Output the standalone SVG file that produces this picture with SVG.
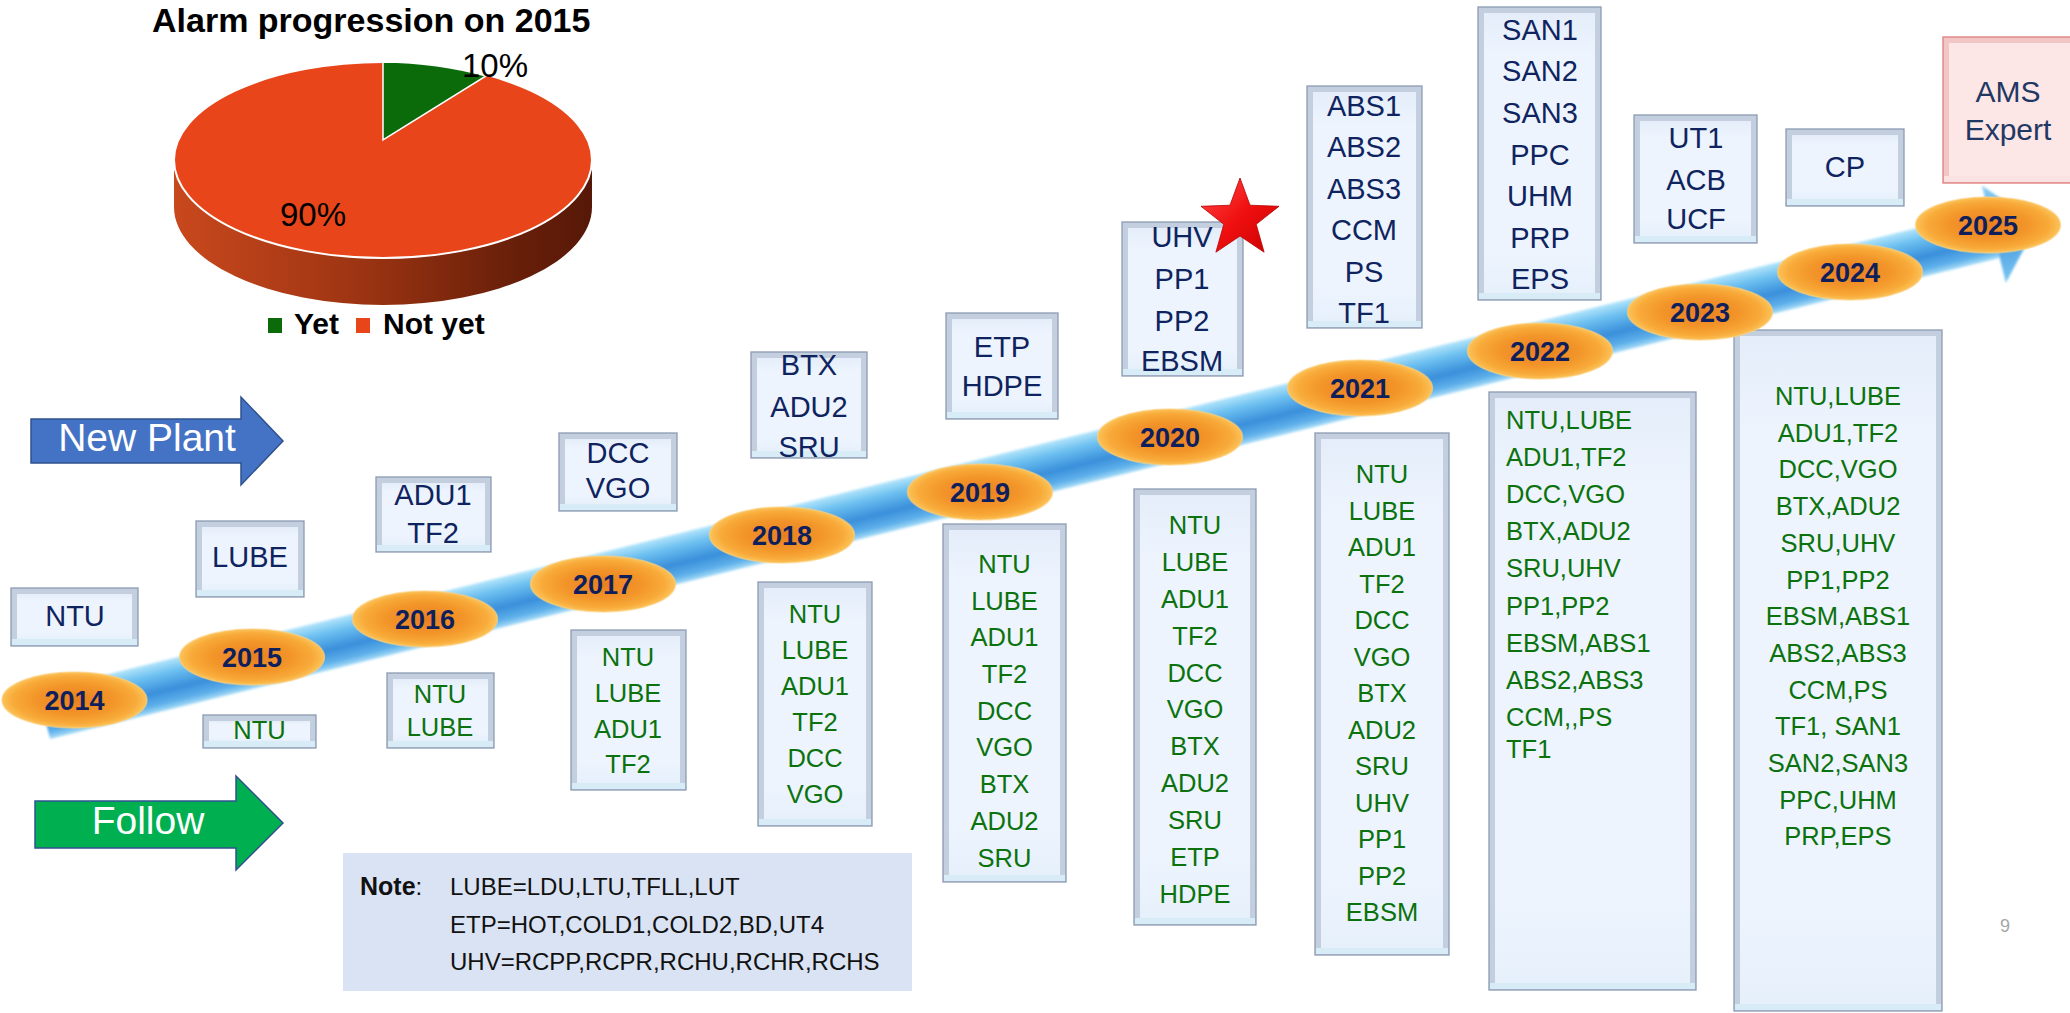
<svg xmlns="http://www.w3.org/2000/svg" width="2070" height="1013" viewBox="0 0 2070 1013">
<defs>
<style>
text{font-family:"Liberation Sans",Arial,sans-serif}
.bo{fill:#C3CFDF;stroke:#8C9BB2;stroke-width:1.3}
.bb{fill:#D8ECF7}
.bi{fill:url(#boxIn)}
.pk .bo{fill:#F3C6C6;stroke:#DE7C7C}
.pk .bb{fill:#FBE2E2}
.pk .bi{fill:#FDE6E6}
.np text{font-size:29px;fill:#0F245F;text-anchor:middle}
.pk text{font-size:30px;fill:#1F3864;text-anchor:middle}
.fw text{font-size:25.5px;fill:#0B720D;text-anchor:middle}
.fw text.left{text-anchor:start}
.yr ellipse{fill:url(#yrFill);stroke:#FCD080;stroke-width:1.5;stroke-opacity:.6}
.yr text{font-size:27px;font-weight:bold;fill:#0E1F5C;text-anchor:middle}
.lbl{font-size:33px;fill:#000}
.lg{font-size:30px;font-weight:bold;fill:#000}
.note text{font-size:24px;fill:#111}
.big{font-size:39px;fill:#fff;text-anchor:middle}
</style>
<linearGradient id="boxIn" x1="0" y1="0" x2="0" y2="1">
<stop offset="0" stop-color="#E4EDF9"/>
<stop offset="0.15" stop-color="#EDF4FE"/>
<stop offset="0.85" stop-color="#EDF4FE"/>
<stop offset="1" stop-color="#E6F0FB"/>
</linearGradient>
<radialGradient id="yrFill" cx="0.5" cy="0.5" r="0.5">
<stop offset="0" stop-color="#E97E20"/>
<stop offset="0.55" stop-color="#F3962A"/>
<stop offset="0.85" stop-color="#F8AB3A"/>
<stop offset="1" stop-color="#FCC258"/>
</radialGradient>
<linearGradient id="bandFill" gradientUnits="userSpaceOnUse" x1="0" y1="690.7" x2="0" y2="739.7">
<stop offset="0" stop-color="#B3E5FB"/>
<stop offset="0.25" stop-color="#6CC0F0"/>
<stop offset="0.6" stop-color="#3A8FDB"/>
<stop offset="0.85" stop-color="#5EB0EA"/>
<stop offset="1" stop-color="#A8DDF8"/>
</linearGradient>
<linearGradient id="headFill" x1="0" y1="0" x2="0" y2="1">
<stop offset="0" stop-color="#8ED2F6"/>
<stop offset="0.5" stop-color="#3F95DE"/>
<stop offset="1" stop-color="#7CC6F2"/>
</linearGradient>
<linearGradient id="pieSide" gradientUnits="userSpaceOnUse" x1="174" y1="0" x2="592" y2="0">
<stop offset="0" stop-color="#C9481D"/>
<stop offset="0.45" stop-color="#9C3412"/>
<stop offset="0.8" stop-color="#6A200A"/>
<stop offset="1" stop-color="#561807"/>
</linearGradient>
<linearGradient id="starFill" x1="0" y1="0" x2="1" y2="1">
<stop offset="0" stop-color="#FF4A4A"/>
<stop offset="0.5" stop-color="#F01010"/>
<stop offset="1" stop-color="#C80000"/>
</linearGradient>
<filter id="soft" x="-5%" y="-20%" width="110%" height="140%">
<feGaussianBlur stdDeviation="1.2"/>
</filter>
</defs>

<rect width="2070" height="1013" fill="#fff"/>

<!-- pie chart: alarm progression -->
<g id="pie-chart">
<text x="152" y="32" style="font-size:34px;font-weight:bold" fill="#000">Alarm progression on 2015</text>
<path d="M174,160 A209,98 0 0 0 592,160 L592,207 A209,98 0 0 1 174,207 Z" fill="url(#pieSide)"/>
<ellipse cx="383" cy="160" rx="209" ry="98" fill="#E8461A" stroke="#fff" stroke-width="2"/>
<path d="M383,140 L383,62 A209,98 0 0 1 486,76 Z" fill="#0B6B0B" stroke="#fff" stroke-width="1.5"/>
<text class="lbl" x="462" y="77">10%</text>
<text class="lbl" x="280" y="226">90%</text>
<rect x="268" y="318" width="14" height="15" fill="#0B6B0B"/>
<text class="lg" x="294" y="334">Yet</text>
<rect x="356" y="318" width="14" height="15" fill="#E8461A"/>
<text class="lg" x="383" y="334">Not yet</text>
</g>

<!-- category arrows -->
<g id="arrow-new-plant">
<path d="M31,419 H241 V397 L283,441 L241,485 V463 H31 Z" fill="#4472C4" stroke="#2F528F" stroke-width="1.5"/>
<text class="big" x="147" y="451">New Plant</text>
</g>
<g id="arrow-follow">
<path d="M35,801 H236 V776 L283,823 L236,870 V848 H35 Z" fill="#00B050" stroke="#2F528F" stroke-width="1.5"/>
<text class="big" x="148" y="834">Follow</text>
</g>

<!-- new plant boxes -->
<g id="np-2014" class="np"><rect class="bo" x="11" y="588" width="127" height="58"/><rect class="bb" x="12" y="639" width="125" height="6"/><rect class="bi" x="17" y="594" width="115" height="45"/>
<text x="75" y="626">NTU</text></g>
<g id="np-2015" class="np"><rect class="bo" x="196" y="521" width="108" height="76"/><rect class="bb" x="197" y="590" width="106" height="6"/><rect class="bi" x="202" y="527" width="96" height="63"/>
<text x="250" y="567">LUBE</text></g>
<g id="np-2016" class="np"><rect class="bo" x="376" y="477" width="115" height="75"/><rect class="bb" x="377" y="545" width="113" height="6"/><rect class="bi" x="382" y="483" width="103" height="62"/>
<text x="433" y="505">ADU1</text><text x="433" y="543">TF2</text></g>
<g id="np-2017" class="np"><rect class="bo" x="559" y="433" width="118" height="78"/><rect class="bb" x="560" y="504" width="116" height="6"/><rect class="bi" x="565" y="439" width="106" height="65"/>
<text x="618" y="463">DCC</text><text x="618" y="498">VGO</text></g>
<g id="np-2018" class="np"><rect class="bo" x="751" y="352" width="116" height="106"/><rect class="bb" x="752" y="451" width="114" height="6"/><rect class="bi" x="757" y="358" width="104" height="93"/>
<text x="809" y="375">BTX</text><text x="809" y="417">ADU2</text><text x="809" y="457">SRU</text></g>
<g id="np-2019" class="np"><rect class="bo" x="946" y="313" width="112" height="106"/><rect class="bb" x="947" y="412" width="110" height="6"/><rect class="bi" x="952" y="319" width="100" height="93"/>
<text x="1002" y="357">ETP</text><text x="1002" y="396">HDPE</text></g>
<g id="np-2020" class="np"><rect class="bo" x="1122" y="222" width="121" height="154"/><rect class="bb" x="1123" y="369" width="119" height="6"/><rect class="bi" x="1128" y="228" width="109" height="141"/>
<text x="1182" y="247">UHV</text><text x="1182" y="289">PP1</text><text x="1182" y="331">PP2</text><text x="1182" y="371">EBSM</text></g>
<g id="np-2021" class="np"><rect class="bo" x="1307" y="86" width="115" height="242"/><rect class="bb" x="1308" y="321" width="113" height="6"/><rect class="bi" x="1313" y="92" width="103" height="229"/>
<text x="1364" y="116">ABS1</text><text x="1364" y="157">ABS2</text><text x="1364" y="199">ABS3</text><text x="1364" y="240">CCM</text><text x="1364" y="282">PS</text><text x="1364" y="323">TF1</text></g>
<g id="np-2022" class="np"><rect class="bo" x="1478" y="7" width="123" height="293"/><rect class="bb" x="1479" y="293" width="121" height="6"/><rect class="bi" x="1484" y="13" width="111" height="280"/>
<text x="1540" y="40">SAN1</text><text x="1540" y="81">SAN2</text><text x="1540" y="123">SAN3</text><text x="1540" y="165">PPC</text><text x="1540" y="206">UHM</text><text x="1540" y="248">PRP</text><text x="1540" y="289">EPS</text></g>
<g id="np-2023" class="np"><rect class="bo" x="1634" y="115" width="123" height="128"/><rect class="bb" x="1635" y="236" width="121" height="6"/><rect class="bi" x="1640" y="121" width="111" height="115"/>
<text x="1696" y="148">UT1</text><text x="1696" y="190">ACB</text><text x="1696" y="229">UCF</text></g>
<g id="np-2024" class="np"><rect class="bo" x="1786" y="129" width="118" height="77"/><rect class="bb" x="1787" y="199" width="116" height="6"/><rect class="bi" x="1792" y="135" width="106" height="64"/>
<text x="1845" y="177">CP</text></g>
<g id="np-2025" class="pk"><rect class="bo" x="1943" y="37" width="135" height="146"/><rect class="bb" x="1944" y="176" width="133" height="6"/><rect class="bi" x="1949" y="43" width="123" height="133"/>
<text x="2008" y="102">AMS</text><text x="2008" y="140">Expert</text></g>

<!-- follow boxes -->
<g id="fw-2015" class="fw"><rect class="bo" x="203" y="715" width="113" height="33"/><rect class="bb" x="204" y="741" width="111" height="6"/><rect class="bi" x="209" y="721" width="101" height="20"/>
<text x="259.5" y="739">NTU</text></g>
<g id="fw-2016" class="fw"><rect class="bo" x="387" y="673" width="107" height="75"/><rect class="bb" x="388" y="741" width="105" height="6"/><rect class="bi" x="393" y="679" width="95" height="62"/>
<text x="440" y="703">NTU</text><text x="440" y="736">LUBE</text></g>
<g id="fw-2017" class="fw"><rect class="bo" x="571" y="630" width="115" height="160"/><rect class="bb" x="572" y="783" width="113" height="6"/><rect class="bi" x="577" y="636" width="103" height="147"/>
<text x="628" y="666">NTU</text><text x="628" y="702">LUBE</text><text x="628" y="738">ADU1</text><text x="628" y="773">TF2</text></g>
<g id="fw-2018" class="fw"><rect class="bo" x="758" y="582" width="114" height="244"/><rect class="bb" x="759" y="819" width="112" height="6"/><rect class="bi" x="764" y="588" width="102" height="231"/>
<text x="815" y="623">NTU</text><text x="815" y="659">LUBE</text><text x="815" y="695">ADU1</text><text x="815" y="731">TF2</text><text x="815" y="767">DCC</text><text x="815" y="803">VGO</text></g>
<g id="fw-2019" class="fw"><rect class="bo" x="943" y="524" width="123" height="358"/><rect class="bb" x="944" y="875" width="121" height="6"/><rect class="bi" x="949" y="530" width="111" height="345"/>
<text x="1004.5" y="573">NTU</text><text x="1004.5" y="610">LUBE</text><text x="1004.5" y="646">ADU1</text><text x="1004.5" y="683">TF2</text><text x="1004.5" y="720">DCC</text><text x="1004.5" y="756">VGO</text><text x="1004.5" y="793">BTX</text><text x="1004.5" y="830">ADU2</text><text x="1004.5" y="867">SRU</text></g>
<g id="fw-2020" class="fw"><rect class="bo" x="1134" y="489" width="122" height="436"/><rect class="bb" x="1135" y="918" width="120" height="6"/><rect class="bi" x="1140" y="495" width="110" height="423"/>
<text x="1195" y="534">NTU</text><text x="1195" y="571">LUBE</text><text x="1195" y="608">ADU1</text><text x="1195" y="645">TF2</text><text x="1195" y="682">DCC</text><text x="1195" y="718">VGO</text><text x="1195" y="755">BTX</text><text x="1195" y="792">ADU2</text><text x="1195" y="829">SRU</text><text x="1195" y="866">ETP</text><text x="1195" y="903">HDPE</text></g>
<g id="fw-2021" class="fw"><rect class="bo" x="1315" y="433" width="134" height="522"/><rect class="bb" x="1316" y="948" width="132" height="6"/><rect class="bi" x="1321" y="439" width="122" height="509"/>
<text x="1382" y="483">NTU</text><text x="1382" y="519.5">LUBE</text><text x="1382" y="556">ADU1</text><text x="1382" y="592.5">TF2</text><text x="1382" y="629">DCC</text><text x="1382" y="665.5">VGO</text><text x="1382" y="702">BTX</text><text x="1382" y="738.5">ADU2</text><text x="1382" y="775">SRU</text><text x="1382" y="811.5">UHV</text><text x="1382" y="848">PP1</text><text x="1382" y="884.5">PP2</text><text x="1382" y="921">EBSM</text></g>
<g id="fw-2022" class="fw"><rect class="bo" x="1489" y="392" width="207" height="598"/><rect class="bb" x="1490" y="983" width="205" height="6"/><rect class="bi" x="1495" y="398" width="195" height="585"/>
<text class="left" x="1506" y="429">NTU,LUBE</text><text class="left" x="1506" y="466">ADU1,TF2</text><text class="left" x="1506" y="503">DCC,VGO</text><text class="left" x="1506" y="540">BTX,ADU2</text><text class="left" x="1506" y="577">SRU,UHV</text><text class="left" x="1506" y="615">PP1,PP2</text><text class="left" x="1506" y="652">EBSM,ABS1</text><text class="left" x="1506" y="689">ABS2,ABS3</text><text class="left" x="1506" y="726">CCM,,PS</text><text class="left" x="1506" y="758">TF1</text></g>
<g id="fw-2023" class="fw"><rect class="bo" x="1734" y="330" width="208" height="681"/><rect class="bb" x="1735" y="1004" width="206" height="6"/><rect class="bi" x="1740" y="336" width="196" height="668"/>
<text x="1838" y="405">NTU,LUBE</text><text x="1838" y="441.7">ADU1,TF2</text><text x="1838" y="478.4">DCC,VGO</text><text x="1838" y="515.1">BTX,ADU2</text><text x="1838" y="551.8">SRU,UHV</text><text x="1838" y="588.5">PP1,PP2</text><text x="1838" y="625.2">EBSM,ABS1</text><text x="1838" y="661.9">ABS2,ABS3</text><text x="1838" y="698.6">CCM,PS</text><text x="1838" y="735.3">TF1, SAN1</text><text x="1838" y="772">SAN2,SAN3</text><text x="1838" y="808.7">PPC,UHM</text><text x="1838" y="845.4">PRP,EPS</text></g>

<!-- timeline band with arrowhead -->
<g id="connectors">
<g transform="rotate(-13.86 44.2 715.2)" filter="url(#soft)">
<rect x="44.2" y="690.7" width="2008.2" height="49" fill="url(#bandFill)"/>
<polygon points="2052.4,665.2 2097.4,715.2 2052.4,765.2" fill="url(#headFill)"/>
</g>
</g>

<!-- year markers -->
<g id="y2014" class="yr"><ellipse cx="74.5" cy="700" rx="72.5" ry="28"/><text x="74.5" y="709.5">2014</text></g>
<g id="y2015" class="yr"><ellipse cx="252" cy="657" rx="72.5" ry="28"/><text x="252" y="666.5">2015</text></g>
<g id="y2016" class="yr"><ellipse cx="425" cy="619" rx="72.5" ry="28"/><text x="425" y="628.5">2016</text></g>
<g id="y2017" class="yr"><ellipse cx="603" cy="584" rx="72.5" ry="28"/><text x="603" y="593.5">2017</text></g>
<g id="y2018" class="yr"><ellipse cx="782" cy="535" rx="72.5" ry="28"/><text x="782" y="544.5">2018</text></g>
<g id="y2019" class="yr"><ellipse cx="980" cy="492" rx="72.5" ry="28"/><text x="980" y="501.5">2019</text></g>
<g id="y2020" class="yr"><ellipse cx="1170" cy="437" rx="72.5" ry="28"/><text x="1170" y="446.5">2020</text></g>
<g id="y2021" class="yr"><ellipse cx="1360" cy="388" rx="72.5" ry="28"/><text x="1360" y="397.5">2021</text></g>
<g id="y2022" class="yr"><ellipse cx="1540" cy="351" rx="72.5" ry="28"/><text x="1540" y="360.5">2022</text></g>
<g id="y2023" class="yr"><ellipse cx="1700" cy="312" rx="72.5" ry="28"/><text x="1700" y="321.5">2023</text></g>
<g id="y2024" class="yr"><ellipse cx="1850" cy="272" rx="72.5" ry="28"/><text x="1850" y="281.5">2024</text></g>
<g id="y2025" class="yr"><ellipse cx="1988" cy="225" rx="72.5" ry="28"/><text x="1988" y="234.5">2025</text></g>

<!-- highlight star on 2020 -->
<g id="star">
<polygon points="1240,178 1250,205.2 1279,206.3 1256.2,224.3 1264.1,252.2 1240,236 1215.9,252.2 1223.8,224.3 1201,206.3 1230,205.2" fill="url(#starFill)" stroke="#B80000" stroke-width="0.8"/>
</g>

<!-- note -->
<g id="note" class="note">
<rect x="343" y="853" width="569" height="138" fill="#DAE3F3"/>
<text x="360" y="895"><tspan style="font-weight:bold;font-size:25px">Note</tspan>:<tspan x="450">LUBE=LDU,LTU,TFLL,LUT</tspan></text>
<text x="450" y="933">ETP=HOT,COLD1,COLD2,BD,UT4</text>
<text x="450" y="970">UHV=RCPP,RCPR,RCHU,RCHR,RCHS</text>
</g>

<text id="page-number" x="2005" y="932" style="font-size:18px" fill="#A6A6A6" text-anchor="middle">9</text>
</svg>
